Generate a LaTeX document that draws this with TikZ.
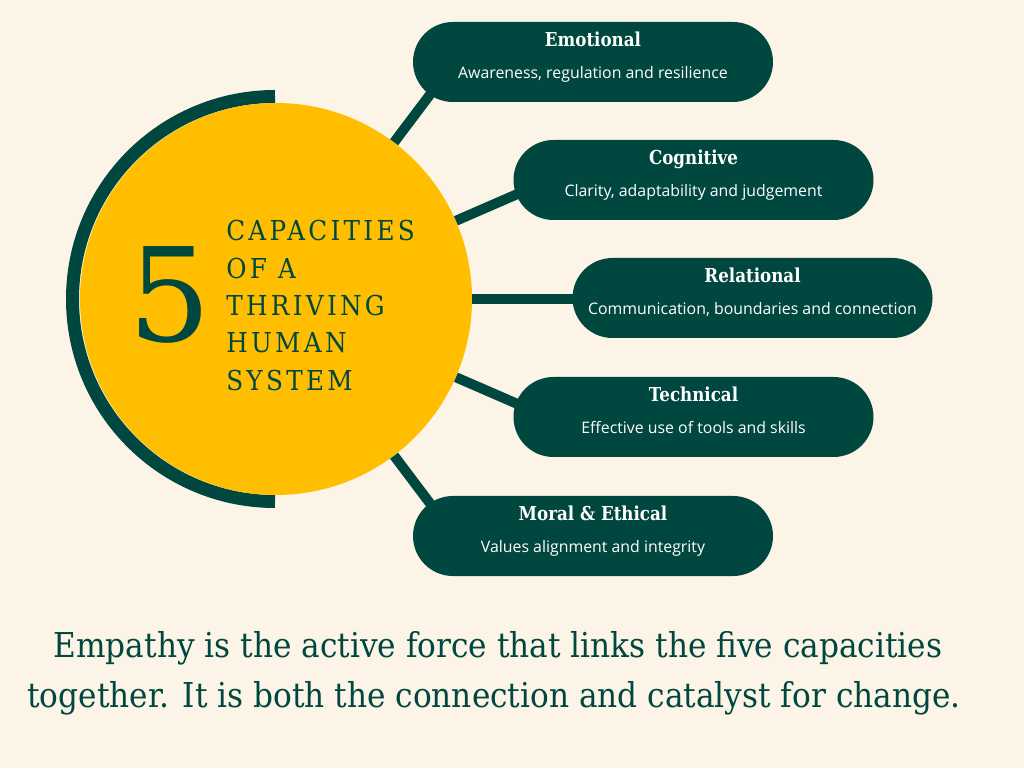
\documentclass[tikz,border=0pt]{standalone}
\usepackage{fontspec}
\setmainfont{DejaVu Serif}
\newfontfamily\slabfont{DejaVu Serif}[FakeStretch=0.87]
\newfontfamily\bodyfont{DejaVu Serif}[FakeStretch=0.91]
\newfontfamily\capsfont{DejaVu Serif}[FakeStretch=0.9,LetterSpace=12]
\newfontfamily\fivefont{DejaVu Serif}
\newfontfamily\subfont{Open Sans}
\definecolor{pine}{HTML}{00473F}
\definecolor{sun}{HTML}{FFBF00}
\definecolor{cream}{HTML}{FBF4E7}
\begin{document}
\begin{tikzpicture}[x=0.75pt,y=0.75pt,
	ring/.style={pine,line width=9.75pt},
	link/.style={pine,line width=7.5pt},
	pill/.style={fill=pine,minimum width=270pt,minimum height=60pt,rounded corners=30pt,inner sep=0pt},
	pillhead/.style={white,anchor=base,inner sep=0pt,font=\slabfont\bfseries\fontsize{14.4pt}{16pt}\selectfont},
	pillsub/.style={white,anchor=base,inner sep=0pt,font=\subfont\fontsize{11.9pt}{13pt}\selectfont},
	capline/.style={pine,anchor=base west,inner sep=0pt,font=\capsfont\fontsize{20.6pt}{24pt}\selectfont},
	body/.style={pine,anchor=base,inner sep=0pt,font=\bodyfont\fontsize{25.7pt}{30pt}\selectfont}]
				\fill[cream] (0,0) rectangle (1024,768);
				\useasboundingbox (0,0) rectangle (1024,768);
				\draw[ring] (275,671.5) arc[start angle=90,end angle=270,radius=202.5];
				\node[circle,fill=sun,minimum size=294pt,inner sep=0pt] (core) at (276,469) {};
				\node[pine,anchor=base,inner sep=0pt,font=\fivefont\fontsize{97.7pt}{100pt}\selectfont] (five) at (170,426) {5};
				\node[capline] (cap1) at (226,527) {CAPACITIES};
				\node[capline] (cap2) at (226,489) {OF A};
				\node[capline] (cap3) at (226,452) {THRIVING};
				\node[capline] (cap4) at (226,415) {HUMAN};
				\node[capline] (cap5) at (226,377) {SYSTEM};
				\coordinate (emoEnd) at ([shift={(53:290)}]core.center);
				\coordinate (cogEnd) at ([shift={(23.5:290)}]core.center);
				\coordinate (relEnd) at ([shift={(0:330)}]core.center);
				\coordinate (tecEnd) at ([shift={(-23.5:290)}]core.center);
				\coordinate (morEnd) at ([shift={(-53:290)}]core.center);
				\draw[link] (core) -- (emoEnd);
				\draw[link] (core) -- (cogEnd);
				\draw[link] (core) -- (relEnd);
				\draw[link] (core) -- (tecEnd);
				\draw[link] (core) -- (morEnd);
				\node[pill] (emo) at (593,706) {};
				\node[pill] (cog) at (693.5,588) {};
				\node[pill] (rel) at (752.5,470) {};
				\node[pill] (tec) at (693.5,351) {};
				\node[pill] (mor) at (593,232) {};
				\node[pillhead] (emoHead) at ([yshift=11.5pt]emo.center) {Emotional};
				\node[pillsub] (emoSub) at ([yshift=-12.75pt]emo.center) {Awareness, regulation and resilience};
				\node[pillhead] (cogHead) at ([yshift=11.5pt]cog.center) {Cognitive};
				\node[pillsub] (cogSub) at ([yshift=-12.75pt]cog.center) {Clarity, adaptability and judgement};
				\node[pillhead] (relHead) at ([yshift=11.5pt]rel.center) {Relational};
				\node[pillsub] (relSub) at ([yshift=-12.75pt]rel.center) {Communication, boundaries and connection};
				\node[pillhead] (tecHead) at ([yshift=11.5pt]tec.center) {Technical};
				\node[pillsub] (tecSub) at ([yshift=-12.75pt]tec.center) {Effective use of tools and skills};
				\node[pillhead] (morHead) at ([yshift=11.5pt]mor.center) {Moral \& Ethical};
				\node[pillsub] (morSub) at ([yshift=-12.75pt]mor.center) {Values alignment and integrity};
				\node[body] (line1) at (498,111) {Empathy is the active force that links the five capacities};
				\node[body] (line2) at (494,61) {together. It is both the connection and catalyst for change.};
			\end{tikzpicture}
\end{document}
